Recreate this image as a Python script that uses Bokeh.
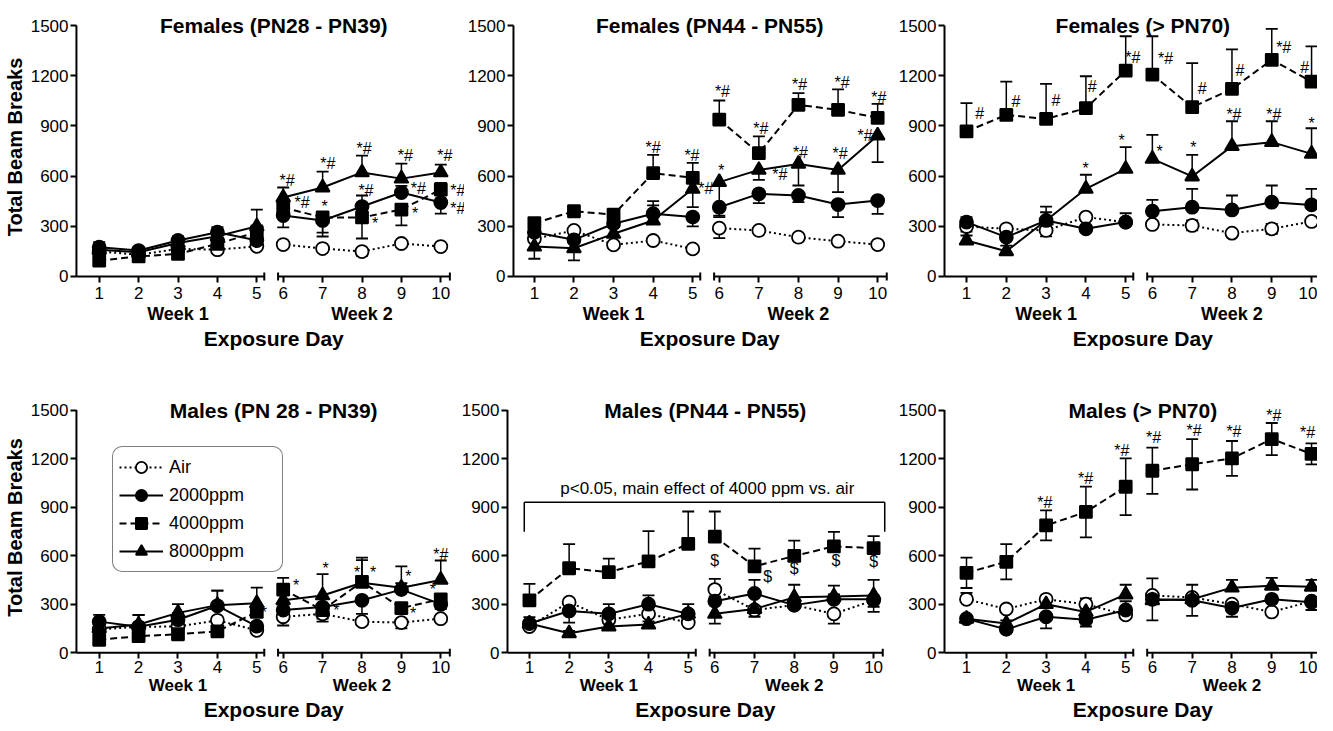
from bokeh.plotting import figure
from bokeh.models import (Range1d, FixedTicker, CustomJSTickFormatter, Label,
                          Legend, LegendItem, LinearAxis)
from bokeh.layouts import column, row
from bokeh.embed import file_html
from bokeh.resources import INLINE
from bokeh.core.properties import value

# ---------------- data ----------------
days = [1, 2, 3, 4, 5, 6, 7, 8, 9, 10]
day_labels = [str(d) for d in days]
week_labels = ["Week 1", "Week 2"]
week_mid_days = [3, 8]
y_ticks = [0, 300, 600, 900, 1200, 1500]
groups = ["Air", "2000ppm", "4000ppm", "8000ppm"]
titles = ["Females (PN28 - PN39)", "Females (PN44 - PN55)", "Females (> PN70)",
          "Males (PN 28 - PN39)", "Males (PN44 - PN55)", "Males (> PN70)"]
x_title = "Exposure Day"
y_title = "Total Beam Breaks"

# Females PN28-PN39
f28_air = [150, 130, 165, 160, 180, 191, 167, 149, 197, 179]
f28_air_err = [15, 15, 15, 15, 15, 20, 20, 25, 20, 15]
f28_air_side = "dddddddddd"
f28_2000 = [175, 155, 215, 265, 215, 364, 335, 418, 502, 442]
f28_2000_err = [30, 20, 25, 30, 30, 70, 96, 66, 40, 66]
f28_2000_side = "uuuuudduud"
f28_4000 = [95, 120, 135, 195, 265, 412, 353, 353, 400, 520]
f28_4000_err = [20, 15, 20, 25, 40, 40, 91, 126, 95, 40]
f28_4000_side = "dddduudddu"
f28_8000 = [160, 145, 200, 240, 300, 472, 532, 622, 585, 622]
f28_8000_err = [25, 20, 25, 25, 100, 60, 95, 100, 90, 47]
f28_8000_side = "uuuuuuuuuu"
f28_notes = [(6.1, 574, "*#"), (6.48, 442, "*#"), (7.05, 418, "*"), (7.13, 675, "*#"),
             (8.05, 765, "*#"), (8.1, 514, "*#"), (8.33, 317, "*"), (9.1, 723, "*#"),
             (9.43, 526, "*#"), (9.35, 376, "*"), (10.1, 723, "*#"), (10.43, 514, "*#"),
             (10.43, 406, "*#")]

# Females PN44-PN55
f44_air = [225, 275, 189, 215, 165, 289, 275, 235, 211, 191]
f44_air_err = [20, 20, 20, 20, 15, 60, 20, 20, 20, 15]
f44_air_side = "dddddddddd"
f44_2000 = [265, 219, 315, 375, 355, 414, 494, 484, 430, 454]
f44_2000_err = [30, 30, 30, 50, 56, 59, 56, 40, 75, 80]
f44_2000_side = "uuuudddddd"
f44_4000 = [319, 390, 370, 618, 590, 938, 737, 1026, 996, 948]
f44_4000_err = [30, 20, 30, 109, 89, 114, 100, 70, 122, 84]
f44_4000_side = "uuuuuuuuuu"
f44_8000 = [179, 169, 255, 335, 524, 564, 637, 673, 637, 843]
f44_8000_err = [73, 73, 40, 115, 110, 200, 60, 129, 133, 160]
f44_8000_side = "dduudddddd"
f44_notes = [(4.0, 773, "*#"), (4.98, 723, "*#"), (5.33, 524, "*#"), (6.08, 1106, "*#"),
             (6.05, 633, "*"), (7.05, 882, "*#"), (7.53, 610, "*#"), (8.03, 1145, "*#"),
             (8.05, 743, "*#"), (9.1, 1161, "*#"), (9.05, 733, "*#"), (10.03, 1072, "*#"),
             (9.68, 843, "*#")]

# Females > PN70
f70_air = [299, 285, 275, 355, 325, 311, 305, 259, 285, 329]
f70_air_err = [30, 15, 35, 20, 20, 20, 30, 15, 30, 15]
f70_air_side = "ddbddbbdbd"
f70_2000 = [325, 235, 335, 285, 325, 390, 414, 398, 444, 428]
f70_2000_err = [30, 30, 49, 20, 53, 68, 110, 86, 100, 96]
f70_2000_side = "uuuuuuuuuu"
f70_4000 = [867, 966, 942, 1006, 1231, 1207, 1012, 1121, 1295, 1165]
f70_4000_err = [169, 199, 209, 191, 205, 229, 263, 236, 185, 211]
f70_4000_side = "uuuuuuuuuu"
f70_8000 = [215, 151, 335, 524, 643, 703, 598, 779, 803, 733]
f70_8000_err = [30, 34, 83, 84, 130, 144, 129, 149, 125, 153]
f70_8000_side = "uuuuuuuuuu"
f70_notes = [(1.33, 972, "#"), (2.24, 1046, "#"), (3.25, 1052, "#"), (4.16, 1135, "#"),
             (5.18, 1311, "*#"), (6.33, 1301, "*#"), (7.25, 1121, "#"), (8.2, 1231, "#"),
             (9.3, 1371, "*#"), (9.83, 1251, "#"), (3.99, 643, "*"), (4.9, 813, "*"),
             (6.18, 749, "*"), (7.03, 773, "*"), (8.05, 966, "*#"), (9.05, 966, "*#"),
             (10.0, 912, "*")]

# Males PN28-PN39
m28_air = [144, 160, 162, 200, 138, 222, 240, 192, 186, 210]
m28_air_err = [20, 15, 15, 20, 20, 54, 30, 20, 36, 15]
m28_air_side = "dddddddddd"
m28_2000 = [192, 160, 204, 290, 164, 264, 282, 324, 390, 300]
m28_2000_err = [42, 73, 40, 94, 30, 30, 90, 84, 40, 30]
m28_2000_side = "uuuuddddud"
m28_4000 = [80, 102, 114, 132, 252, 390, 264, 438, 276, 330]
m28_4000_err = [20, 15, 15, 15, 30, 72, 30, 150, 30, 40]
m28_4000_side = "ddddduduud"
m28_8000 = [150, 174, 246, 294, 306, 324, 354, 432, 402, 450]
m28_8000_err = [20, 60, 54, 90, 96, 40, 132, 140, 132, 120]
m28_8000_side = "uuuuuuuuuu"
m28_notes = [(5.18, 249, "*"), (6.33, 414, "*"), (7.08, 522, "*"), (7.35, 258, "*"),
             (7.88, 498, "*"), (8.28, 498, "*"), (9.18, 474, "*"), (9.3, 240, "*"),
             (10.0, 606, "*#"), (9.8, 390, "*")]

# Males PN44-PN55
m44_air = [162, 312, 204, 240, 186, 390, 264, 294, 240, 324]
m44_air_err = [20, 20, 20, 20, 15, 66, 42, 20, 60, 40]
m44_air_side = "dddddudddd"
m44_2000 = [180, 258, 240, 300, 240, 318, 366, 294, 330, 330]
m44_2000_err = [40, 72, 60, 54, 60, 30, 84, 30, 30, 78]
m44_2000_side = "uduuuuuuud"
m44_4000 = [324, 522, 498, 564, 673, 717, 534, 598, 657, 647]
m44_4000_err = [102, 149, 84, 187, 200, 156, 109, 95, 90, 74]
m44_4000_side = "uuuuuuuuuu"
m44_8000 = [180, 120, 162, 174, 240, 240, 270, 342, 348, 354]
m44_8000_err = [20, 15, 20, 20, 20, 60, 20, 78, 66, 96]
m44_8000_side = "uuuuuduuuu"
m44_notes = [(6.0, 570, "$"), (7.33, 474, "$"), (8.0, 522, "$"), (9.05, 570, "$"),
             (10.0, 564, "$")]
m44_bracket_days = [0.87, 10.28]
m44_bracket_top = 930
m44_bracket_drop = 747
m44_bracket_text = "p<0.05, main effect of 4000 ppm vs. air"
m44_bracket_text_at = (5.48, 1016)

# Males > PN70
m70_air = [330, 270, 330, 300, 234, 354, 342, 300, 252, 318]
m70_air_err = [40, 15, 15, 36, 15, 20, 20, 20, 20, 20]
m70_air_side = "uduudddddd"
m70_2000 = [210, 144, 222, 204, 264, 330, 324, 276, 330, 312]
m70_2000_err = [15, 15, 72, 42, 54, 130, 96, 54, 20, 48]
m70_2000_side = "ddddubbddd"
m70_4000 = [494, 562, 787, 870, 1026, 1125, 1165, 1201, 1321, 1229]
m70_4000_err = [94, 109, 93, 157, 175, 143, 156, 108, 99, 65]
m70_4000_side = "bbbbbbbbbb"
m70_8000 = [210, 180, 300, 252, 360, 324, 330, 402, 414, 408]
m70_8000_err = [15, 20, 20, 20, 60, 30, 30, 48, 48, 42]
m70_8000_side = "uuuuuuuuuu"
m70_notes = [(2.97, 930, "*#"), (3.99, 1076, "*#"), (4.9, 1249, "*#"), (6.03, 1331, "*#"),
             (7.05, 1374, "*#"), (8.05, 1368, "*#"), (9.05, 1464, "*#"), (9.9, 1359, "*#")]

# ---------------- styling ----------------
FONT = "Liberation Sans"
SHIFT = 0.33            # gap between week 1 and week 2
PX_PER_DAY = 39.8
W1_END, W2_START, AX_END = 5.19, 5.54, 9.9
CENTER_X = 5.43
Y0, Y1 = -36, 1584
STYLE = {
    "Air":     dict(marker="circle",   size=13, fill="white", dash="2 3"),
    "2000ppm": dict(marker="circle",   size=13, fill="black", dash="solid"),
    "4000ppm": dict(marker="square",   size=12, fill="black", dash="7 4"),
    "8000ppm": dict(marker="triangle", size=14, fill="black", dash="solid"),
}


def xpos(d):
    return d if d < 5.5 else d - SHIFT


def label_formatter(pos, labs):
    return CustomJSTickFormatter(
        args=dict(pos=list(pos), labs=list(labs)),
        code="for (let i = 0; i < pos.length; i++) { if (Math.abs(pos[i] - tick) < 1e-6) return labs[i]; } return '';")


def text_axis(pos, labs, size, standoff):
    ax = LinearAxis(ticker=FixedTicker(ticks=list(pos)), formatter=label_formatter(pos, labs))
    ax.axis_line_color = None
    ax.major_tick_line_color = None
    ax.minor_tick_line_color = None
    ax.major_tick_in = 0
    ax.major_tick_out = 0
    ax.major_label_standoff = standoff
    ax.major_label_text_font = FONT
    ax.major_label_text_font_style = "bold"
    ax.major_label_text_font_size = size
    ax.major_label_text_color = "black"
    return ax


def make_panel(title, series, notes, width, height, b_left, b_top, b_bottom,
               day1_off, ylabel, day_standoff, week_size, week_standoff, exp_standoff):
    frame_w = width - b_left
    x0 = 1 - day1_off / PX_PER_DAY
    x1 = x0 + frame_w / PX_PER_DAY
    yax = x0 + 6 / PX_PER_DAY
    p = figure(width=width, height=height, x_range=Range1d(x0, x1),
               y_range=Range1d(Y0, Y1), output_backend="svg", toolbar_location=None,
               min_border_left=b_left, min_border_right=0, min_border_top=b_top,
               min_border_bottom=b_bottom)
    p.outline_line_color = None
    p.xgrid.visible = False
    p.ygrid.visible = False

    xs = [xpos(d) for d in days]
    p.yaxis.ticker = FixedTicker(ticks=y_ticks)
    p.xaxis.ticker = FixedTicker(ticks=xs)
    p.xaxis.formatter = label_formatter(xs, day_labels)
    for ax in (p.xaxis[0], p.yaxis[0]):
        ax.axis_line_color = None
        ax.major_tick_in = 6
        ax.major_tick_out = 0
        ax.minor_tick_line_color = None
        ax.major_tick_line_width = 2
        ax.major_tick_line_color = "black"
        ax.major_label_text_font = FONT
        ax.major_label_text_font_size = "17px"
        ax.major_label_text_color = "black"
        ax.major_label_standoff = 2
    p.xaxis.major_label_standoff = day_standoff
    if ylabel:
        p.yaxis.axis_label = y_title
        p.yaxis.axis_label_text_font = FONT
        p.yaxis.axis_label_text_font_size = "20px"
        p.yaxis.axis_label_text_font_style = "bold"
        p.yaxis.axis_label_text_color = "black"
        p.yaxis.axis_label_standoff = 2
    # week labels and x title as extra label-only axes below the day axis
    p.add_layout(text_axis([xpos(d) for d in week_mid_days], week_labels, week_size,
                           week_standoff), "below")
    p.add_layout(text_axis([CENTER_X], [x_title], "21px", exp_standoff), "below")

    # broken axis lines
    p.segment(x0=[yax, yax, W2_START, W1_END, W2_START, AX_END],
              y0=[0, 0, 0, -24, -24, -24],
              x1=[yax, W1_END, AX_END, W1_END, W2_START, AX_END],
              y1=[1500, 0, 0, 24, 24, 24], line_color="black", line_width=2)

    w1 = [i for i, d in enumerate(days) if d <= 5]
    w2 = [i for i, d in enumerate(days) if d > 5]
    line_r = {}
    for g, (vals, errs, sides) in zip(groups, series):
        st = STYLE[g]
        r = None
        for idx in (w1, w2):
            rr = p.line([xs[i] for i in idx], [vals[i] for i in idx], line_color="black",
                        line_width=2, line_dash=st["dash"])
            r = r or rr
        line_r[g] = r
    for g, (vals, errs, sides) in zip(groups, series):
        ex, ey0, ey1 = [], [], []
        for i in range(len(days)):
            s = sides[i]
            if s in "ub":
                ex.append(xs[i]); ey0.append(vals[i]); ey1.append(vals[i] + errs[i])
            if s in "db":
                ex.append(xs[i]); ey0.append(vals[i]); ey1.append(vals[i] - errs[i])
        p.segment(x0=ex, y0=ey0, x1=ex, y1=ey1, line_color="black", line_width=1.5)
        p.scatter(ex, ey1, marker="dash", size=12, line_color="black", line_width=1.8)
    mark_r = {}
    for g, (vals, errs, sides) in zip(groups, series):
        st = STYLE[g]
        mark_r[g] = p.scatter(xs, vals, marker=st["marker"], size=st["size"],
                              fill_color=st["fill"], line_color="black", line_width=1.8)

    if notes:
        p.text(x=[xpos(n[0]) for n in notes], y=[n[1] for n in notes],
               text=[n[2] for n in notes], text_font=value(FONT), text_font_size="16px",
               text_align="center", text_baseline="middle", text_color="black")

    p.add_layout(Label(x=CENTER_X, y=1500, text=title, text_font=FONT, text_font_style="bold",
                       text_font_size="21px", text_align="center", text_baseline="middle",
                       text_color="black"))
    return p, line_r, mark_r


def ser(prefix):
    g = globals()
    return [(g[f"{prefix}_{k}"], g[f"{prefix}_{k}_err"], g[f"{prefix}_{k}_side"])
            for k in ("air", "2000", "4000", "8000")]


top = dict(height=360, b_top=11, b_bottom=78, day_standoff=4, week_size="18px",
           week_standoff=2, exp_standoff=0)
bot = dict(height=363, b_top=36, b_bottom=50, day_standoff=2, week_size="17px",
           week_standoff=0, exp_standoff=0)

p1, _, _ = make_panel(titles[0], ser("f28"), f28_notes, width=464, b_left=66, day1_off=29,
                      ylabel=True, **top)
p2, _, _ = make_panel(titles[1], ser("f44"), f44_notes, width=430, b_left=41, day1_off=27,
                      ylabel=False, **top)
p3, _, _ = make_panel(titles[2], ser("f70"), f70_notes, width=423, b_left=44, day1_off=28,
                      ylabel=False, **top)
p4, lr4, mr4 = make_panel(titles[3], ser("m28"), m28_notes, width=458, b_left=66,
                          day1_off=29, ylabel=True, **bot)
p5, _, _ = make_panel(titles[4], ser("m44"), m44_notes, width=436, b_left=42, day1_off=28,
                      ylabel=False, **bot)
p6, _, _ = make_panel(titles[5], ser("m70"), m70_notes, width=423, b_left=44, day1_off=28,
                      ylabel=False, **bot)

# bracket in Males PN44-PN55
bl, br = xpos(m44_bracket_days[0]), xpos(m44_bracket_days[1])
p5.segment(x0=[bl, bl, br], y0=[m44_bracket_top, m44_bracket_drop, m44_bracket_drop],
           x1=[br, bl, br], y1=[m44_bracket_top, m44_bracket_top, m44_bracket_top],
           line_color="black", line_width=1.5)
p5.add_layout(Label(x=m44_bracket_text_at[0], y=m44_bracket_text_at[1], text=m44_bracket_text,
                    text_font=FONT, text_font_size="17px", text_align="center",
                    text_baseline="middle", text_color="black"))

# legend in Males PN28-PN39
legend_kw = dict(items=[LegendItem(label=g, renderers=[lr4[g], mr4[g]]) for g in groups],
                 location=(42, 86), label_text_font=FONT, label_text_font_size="18px",
                 label_text_color="black", glyph_width=44, glyph_height=28,
                 label_standoff=6, spacing=0, padding=6, label_width=107,
                 border_line_color="black", border_line_width=1.5,
                 background_fill_color="white", background_fill_alpha=1.0)
if "border_radius" in Legend.properties():
    legend_kw["border_radius"] = 10
p4.add_layout(Legend(**legend_kw))

layout = column(row(p1, p2, p3), row(p4, p5, p6))
open("out.html", "w").write(file_html(layout, INLINE))
